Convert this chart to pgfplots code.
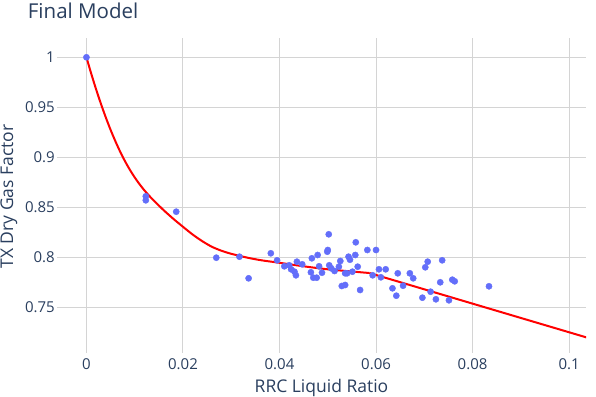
\documentclass[border=0pt]{standalone}
\usepackage{pgfplots}
\pgfplotsset{compat=1.18}
\usepackage{fontspec}
\setmainfont{Open Sans}
\definecolor{txt}{HTML}{2A3F5F}
\definecolor{gridc}{HTML}{D4D4D4}
\definecolor{mk}{HTML}{636EFA}
\begin{document}
\begin{tikzpicture}[x=1pt,y=1pt]
\path[use as bounding box, fill=white] (0,0) rectangle (596,396);
\begin{axis}[
  at={(57pt,43.3pt)}, anchor=south west,
  width=529pt, height=314.4pt, scale only axis,
  xmin=-0.0061, xmax=0.1035, ymin=0.7046, ymax=1.019,
  axis line style={draw=none},
  tick style={draw=none},
  grid=major, grid style={gridc, line width=1pt},
  xtick={0,0.02,0.04,0.06,0.08,0.1},
  xticklabels={0,0.02,0.04,0.06,0.08,0.1},
  ytick={0.75,0.8,0.85,0.9,0.95,1},
  yticklabels={0.75,0.8,0.85,0.9,0.95,1},
  ticklabel style={font=\fontsize{15}{18}\selectfont, text=txt, inner sep=0pt},
  xticklabel style={anchor=north, yshift=-6pt},
  yticklabel style={anchor=east, xshift=-2pt},
  clip=true,
]
\addplot[color=mk, only marks, mark=*, mark size=3.1pt, mark options={solid, draw=none, fill=mk}] coordinates {
(0,1.0) (0.0123,0.861) (0.0123,0.857) (0.0186,0.8456) (0.0269,0.7996)
(0.0317,0.8006) (0.0336,0.779) (0.0382,0.804) (0.0395,0.797) (0.0410,0.791)
(0.0420,0.792) (0.0424,0.788) (0.0431,0.7856) (0.0434,0.782) (0.0436,0.7956)
(0.0447,0.793) (0.0467,0.799) (0.0465,0.785) (0.0470,0.7796) (0.0477,0.7796)
(0.0479,0.8023) (0.0482,0.791) (0.0488,0.7846) (0.0499,0.8056) (0.0500,0.8073)
(0.0502,0.823) (0.0503,0.792) (0.0507,0.789) (0.0514,0.7863) (0.0523,0.7906)
(0.0526,0.7963) (0.0529,0.7713) (0.0536,0.7723) (0.0536,0.784) (0.0540,0.784)
(0.0543,0.8006) (0.0546,0.7976) (0.0551,0.7856) (0.0557,0.8023) (0.0558,0.815)
(0.0562,0.7906) (0.0567,0.7673) (0.0582,0.8073) (0.0600,0.8073) (0.0593,0.782)
(0.0606,0.788) (0.0610,0.780) (0.0620,0.788) (0.0634,0.769) (0.0642,0.7616)
(0.0645,0.784) (0.0656,0.7716) (0.0670,0.784) (0.0677,0.779) (0.0696,0.7596)
(0.0702,0.790) (0.0707,0.7956) (0.0713,0.7656) (0.0724,0.758) (0.0733,0.775)
(0.0737,0.797) (0.0751,0.757) (0.0758,0.7776) (0.0763,0.776) (0.0834,0.771)
};
\addplot[red, line width=2pt, smooth, tension=0.5] coordinates {
(0,1.000) (0.001,0.9835) (0.002,0.968) (0.003,0.9535) (0.004,0.940)
(0.005,0.9275) (0.006,0.916) (0.007,0.9055) (0.008,0.896) (0.009,0.8875)
(0.010,0.8799) (0.011,0.8731) (0.012,0.867) (0.013,0.8615) (0.014,0.8565)
(0.016,0.8471) (0.018,0.8385) (0.020,0.8305) (0.022,0.8228) (0.024,0.8161)
(0.026,0.8105) (0.028,0.8065) (0.030,0.8035) (0.033,0.800) (0.036,0.7972)
(0.040,0.7945) (0.045,0.791) (0.050,0.788) (0.055,0.7858) (0.0586,0.7843)
};
\addplot[red, line width=2pt] coordinates {
(0.0586,0.7843) (0.1040,0.7193)
};
\end{axis}
\node[anchor=base west, inner sep=0pt, text=txt, font=\fontsize{20.5}{24}\selectfont] at (27.7,377.7) {Final Model};
\node[anchor=base, inner sep=0pt, text=txt, font=\fontsize{17.5}{21}\selectfont] at (321.5,4) {RRC Liquid Ratio};
\node[rotate=90, anchor=center, inner sep=0pt, text=txt, font=\fontsize{17.5}{21}\selectfont] at (9,199.5) {TX Dry Gas Factor};
\end{tikzpicture}
\end{document}
